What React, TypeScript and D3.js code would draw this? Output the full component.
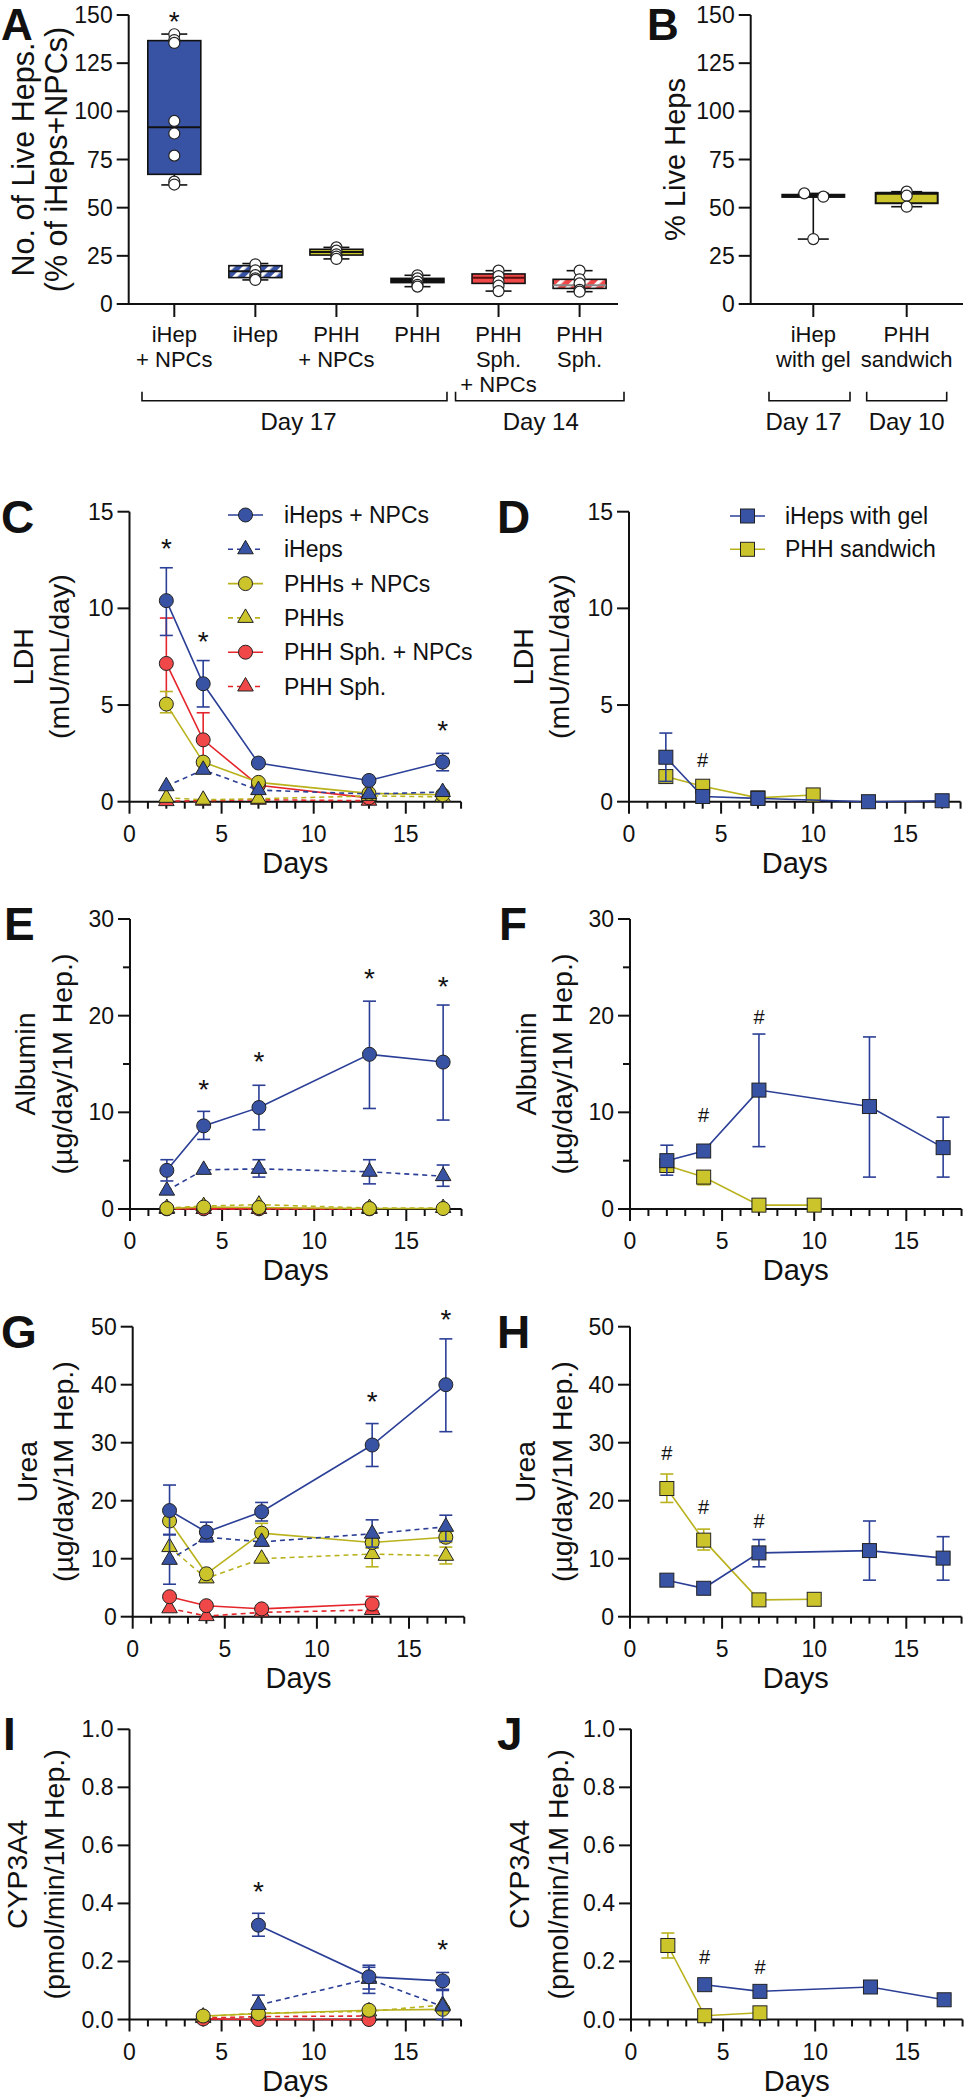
import React from 'react';
import * as d3 from 'd3';

const FONT = '"Liberation Sans", Arial, Helvetica, sans-serif';
const INK = '#111';
const BLUE = '#3953A4', BLUE_L = '#2B3F97';
const YEL = '#CBC42B', YEL_L = '#B9B21D';
const RED = '#F04848', RED_L = '#E4252B';

// ---------- Panel A (box plots) ----------
const catsA = [['iHep', '+ NPCs'], ['iHep'], ['PHH', '+ NPCs'], ['PHH'], ['PHH', 'Sph.', '+ NPCs'], ['PHH', 'Sph.']];
const a_min = [61.8, 12.5, 23.4, 9.0, 6.7, 6.4];
const a_q1 = [67.3, 13.7, 25.4, 11.1, 10.7, 8.1];
const a_med = [91.7, 17.0, 27.0, 12.2, 13.6, 9.7];
const a_q3 = [136.7, 19.9, 28.4, 13.3, 15.6, 12.8];
const a_max = [140.1, 21.0, 29.4, 14.9, 17.3, 17.3];
const a_pts = [
  [140, 137, 135.5, 95, 88.5, 77, 63.5, 62],
  [20.6, 17.5, 15.0, 13.3, 12.5],
  [29.4, 27.7, 25.8, 24.6, 23.4],
  [14.9, 13.3, 11.6, 9.9, 9.0],
  [17.3, 14.5, 11.6, 9.5, 6.7],
  [17.3, 12.8, 10.7, 7.3, 6.4],
];
const groupsA = [{ label: 'Day 17', from: 0, to: 3 }, { label: 'Day 14', from: 4, to: 5 }];
const yTicksBox = [0, 25, 50, 75, 100, 125, 150];

// ---------- Panel B ----------
const catsB = [['iHep', 'with gel'], ['PHH', 'sandwich']];
const b_min = [33.7, 50.5];
const b_q1 = [55.6, 52.3];
const b_med = [56.1, 57.5];
const b_q3 = [56.7, 57.6];
const b_max = [57.4, 58.3];
const b_pts = [[57.4, 55.7, 33.7], [58.3, 56.2, 50.5]];
const groupsB = [{ label: 'Day 17', from: 0, to: 0 }, { label: 'Day 10', from: 1, to: 1 }];

// ---------- Time-course days ----------
const days5 = [2, 4, 7, 13, 17];
const days4 = [2, 4, 7, 13];
const daysSand = [2, 4, 7, 10];
const daysI4 = [4, 7, 13, 17];
const daysI3 = [7, 13, 17];
const daysIS = [4, 7, 13];
const daysJg = [4, 7, 13, 17];
const daysJs = [2, 4, 7];

// LDH (C)
const ldh_iHN = [10.4, 6.1, 2.0, 1.1, 2.05];
const ldh_iHN_hi = [12.1, 7.3, null, null, 2.5];
const ldh_iHN_lo = [8.6, 4.9, null, null, 1.6];
const ldh_iH = [0.8, 1.65, 0.6, 0.4, 0.5];
const ldh_PN = [5.05, 2.05, 1.0, 0.43, 0.36];
const ldh_PN_hi = [5.7, null, null, null, null];
const ldh_PN_lo = [4.6, null, null, null, null];
const ldh_P = [0.2, 0.1, 0.15, 0.3, 0.25];
const ldh_SN = [7.15, 3.2, 0.85, 0.2];
const ldh_SN_hi = [9.5, 4.6, null, null];
const ldh_SN_lo = [4.9, 1.9, null, null];
const ldh_S = [0.03, 0.05, 0.1, 0.05];
// LDH (D)
const ldh_gel = [2.3, 0.27, 0.17, 0.0, 0.05];
const ldh_gel_hi = [3.55, null, null, null, null];
const ldh_gel_lo = [1.05, null, null, null, null];
const ldh_sand = [1.3, 0.8, 0.2, 0.35];

// Albumin (E)
const alb_iHN = [4.0, 8.6, 10.5, 16.0, 15.2];
const alb_iHN_hi = [5.1, 10.1, 12.8, 21.5, 21.1];
const alb_iHN_lo = [2.9, 7.2, 8.2, 10.4, 9.2];
const alb_iH = [1.9, 4.05, 4.15, 3.85, 3.4];
const alb_iH_hi = [null, null, 5.1, 5.1, 4.55];
const alb_iH_lo = [null, null, 3.3, 2.6, 2.35];
const alb_PN = [0.05, 0.2, 0.15, 0.05, 0.05];
const alb_P = [0.1, 0.3, 0.45, 0.1, 0.1];
const alb_SN = [0.02, 0.02, 0.02, 0.02];
const alb_S = [0.0, 0.0, 0.0, 0.0];
// Albumin (F)
const alb_gel = [5.0, 6.0, 12.3, 10.6, 6.35];
const alb_gel_hi = [6.6, null, 18.1, 17.8, 9.5];
const alb_gel_lo = [3.5, null, 6.45, 3.3, 3.3];
const alb_sand = [4.5, 3.3, 0.4, 0.4];
const alb_sand_hi = [null, 3.9, null, null];
const alb_sand_lo = [null, 2.5, null, null];

// Urea (G)
const urea_iHN = [18.3, 14.6, 18.1, 29.6, 40.0];
const urea_iHN_hi = [22.7, 16.3, 19.7, 33.3, 47.9];
const urea_iHN_lo = [14.2, 12.9, 16.5, 25.9, 31.9];
const urea_iH = [9.8, 13.7, 12.9, 14.3, 15.5];
const urea_iH_hi = [14.1, null, null, 16.7, 17.5];
const urea_iH_lo = [5.6, null, null, 12.0, 13.0];
const urea_PN = [16.5, 7.4, 14.4, 12.8, 13.7];
const urea_PN_hi = [null, null, 16.1, 13.8, 14.6];
const urea_PN_lo = [null, null, 12.7, 11.8, 12.8];
const urea_P = [12.0, 6.6, 10.0, 10.8, 10.5];
const urea_P_hi = [null, null, null, 11.9, 12.0];
const urea_P_lo = [null, null, null, 8.6, 9.1];
const urea_SN = [3.45, 1.9, 1.35, 2.2];
const urea_SN_hi = [null, null, null, 3.5];
const urea_SN_lo = [null, null, null, 1.0];
const urea_S = [1.45, 0.1, 0.75, 1.15];
// Urea (H)
const urea_gel = [6.3, 4.9, 11.0, 11.4, 10.1];
const urea_gel_hi = [null, null, 13.3, 16.5, 13.8];
const urea_gel_lo = [null, null, 8.6, 6.3, 6.3];
const urea_sand = [22.1, 13.2, 2.9, 3.0];
const urea_sand_hi = [24.6, 15.1, null, null];
const urea_sand_lo = [19.7, 11.5, null, null];

// CYP3A4 (I)
const cyp_iHN = [0.325, 0.147, 0.133];
const cyp_iHN_hi = [0.366, 0.187, 0.162];
const cyp_iHN_lo = [0.287, 0.105, 0.104];
const cyp_iH = [0.05, 0.14, 0.045];
const cyp_iH_hi = [0.084, 0.18, 0.1];
const cyp_iH_lo = [null, 0.09, 0.0];
const cyp_PN = [0.012, 0.02, 0.032, 0.035];
const cyp_P = [0.01, 0.022, 0.028, 0.05];
const cyp_SN = [0.002, 0.0, 0.0];
const cyp_S = [0.005, 0.01, 0.012];
// CYP3A4 (J)
const cyp_gel = [0.12, 0.097, 0.112, 0.068];
const cyp_sand = [0.255, 0.013, 0.023];
const cyp_sand_hi = [0.298, null, null];
const cyp_sand_lo = [0.212, null, null];

// significance marks
const sigC_days = [2, 4, 17], sigC_vals = [13.45, 8.6, 4.0];
const sigD_days = [4], sigD_vals = [2.16];
const sigE_days = [4, 7, 13, 17], sigE_vals = [13.0, 15.9, 24.55, 23.7];
const sigF_days = [4, 7], sigF_vals = [9.7, 19.9];
const sigG_days = [13, 17], sigG_vals = [38.2, 52.3];
const sigH_days = [2, 4, 7], sigH_vals = [28.2, 19.0, 16.5];
const sigI_days = [7, 17], sigI_vals = [0.463, 0.262];
const sigJ_days = [4, 7], sigJ_vals = [0.214, 0.182];

const legendLeft = [
  ['iHN', 'iHeps + NPCs'], ['iH', 'iHeps'], ['PN', 'PHHs + NPCs'],
  ['P', 'PHHs'], ['SN', 'PHH Sph. + NPCs'], ['S', 'PHH Sph.'],
];
const legendRight = [['gel', 'iHeps with gel'], ['sand', 'PHH sandwich']];

const STYLE: any = {
  iHN: { fill: BLUE, stroke: BLUE_L, shape: 'circle', dash: null },
  iH: { fill: BLUE, stroke: BLUE_L, shape: 'triangle', dash: '5,4' },
  PN: { fill: YEL, stroke: YEL_L, shape: 'circle', dash: null },
  P: { fill: YEL, stroke: YEL_L, shape: 'triangle', dash: '5,4' },
  SN: { fill: RED, stroke: RED_L, shape: 'circle', dash: null },
  S: { fill: RED, stroke: RED_L, shape: 'triangle', dash: '5,4' },
  gel: { fill: BLUE, stroke: BLUE_L, shape: 'square', dash: null },
  sand: { fill: YEL, stroke: YEL_L, shape: 'square', dash: null },
};

const ser = (key: string, days: number[], mean: number[], hi?: any[], lo?: any[]) => ({ key, days, mean, hi, lo });

const triPath = d3.symbol().type(d3.symbolTriangle).size(105)() as string;

function Marker({ shape, x, y, fill }: any) {
  if (shape === 'circle') return <circle cx={x} cy={y} r={7} fill={fill} stroke="#222" strokeWidth={1} />;
  if (shape === 'square') return <rect x={x - 7} y={y - 7} width={14} height={14} fill={fill} stroke="#222" strokeWidth={1} />;
  return <path d={triPath} transform={`translate(${x},${y})`} fill={fill} stroke="#222" strokeWidth={1} />;
}

function LinePanel(p: any) {
  const x = d3.scaleLinear().domain([0, 18]).range([p.left, p.left + 18 * 18.42]);
  const y = d3.scaleLinear().domain([0, p.ymax]).range([p.zero, p.top]);
  const cy = (p.top + p.zero) / 2;
  const fmt = p.fmt || ((v: number) => String(v));
  return (
    <g>
      <text x={p.letterX} y={p.top + 21} fontSize={46} fontWeight="bold" fill={INK}>{p.letter}</text>
      <text transform={`translate(${p.lx1},${cy}) rotate(-90)`} textAnchor="middle" dominantBaseline="central" fontSize={28.5} fill={INK}>{p.label1}</text>
      <text transform={`translate(${p.lx2},${cy}) rotate(-90)`} textAnchor="middle" dominantBaseline="central" fontSize={28.5} fill={INK}>{p.label2}</text>
      <line x1={p.left} x2={p.left} y1={p.top} y2={p.zero} stroke={INK} strokeWidth={2} />
      <line x1={p.left - 1} x2={x(18)} y1={p.zero} y2={p.zero} stroke={INK} strokeWidth={2} />
      {p.yticks.map((t: number) => (
        <g key={'yt' + t}>
          <line x1={p.left - 12} x2={p.left} y1={y(t)} y2={y(t)} stroke={INK} strokeWidth={2} />
          <text x={p.left - 16} y={y(t)} textAnchor="end" dominantBaseline="central" fontSize={23} fill={INK}>{fmt(t)}</text>
        </g>
      ))}
      {(p.minor || []).map((t: number) => (
        <line key={'ym' + t} x1={p.left - 7} x2={p.left} y1={y(t)} y2={y(t)} stroke={INK} strokeWidth={2} />
      ))}
      {d3.range(0, 19).map((d) => (
        <line key={'xt' + d} x1={x(d)} x2={x(d)} y1={p.zero} y2={p.zero + (d % 5 === 0 ? 12 : 7)} stroke={INK} strokeWidth={2} />
      ))}
      {[0, 5, 10, 15].map((d) => (
        <text key={'xl' + d} x={x(d)} y={p.zero + 40} textAnchor="middle" fontSize={23} fill={INK}>{d}</text>
      ))}
      <text x={(x(0) + x(18)) / 2} y={p.zero + 71} textAnchor="middle" fontSize={29} fill={INK}>Days</text>
      {p.series.map((s: any) => {
        const st = STYLE[s.key];
        const pts = s.days.map((d: number, i: number) => [x(d), y(s.mean[i])] as [number, number]);
        return (
          <g key={s.key}>
            <path d={d3.line()(pts) as string} fill="none" stroke={st.stroke} strokeWidth={1.6} strokeDasharray={st.dash || undefined} />
            {s.days.map((d: number, i: number) => {
              const hi = s.hi ? s.hi[i] : null;
              const lo = s.lo ? s.lo[i] : null;
              const out: any[] = [];
              if (hi != null) {
                out.push(<line key={'h' + i} x1={x(d)} x2={x(d)} y1={y(s.mean[i])} y2={y(hi)} stroke={st.stroke} strokeWidth={1.6} />);
                out.push(<line key={'hc' + i} x1={x(d) - 6.5} x2={x(d) + 6.5} y1={y(hi)} y2={y(hi)} stroke={st.stroke} strokeWidth={1.6} />);
              }
              if (lo != null) {
                out.push(<line key={'l' + i} x1={x(d)} x2={x(d)} y1={y(s.mean[i])} y2={y(lo)} stroke={st.stroke} strokeWidth={1.6} />);
                out.push(<line key={'lc' + i} x1={x(d) - 6.5} x2={x(d) + 6.5} y1={y(lo)} y2={y(lo)} stroke={st.stroke} strokeWidth={1.6} />);
              }
              return <g key={'e' + i}>{out}</g>;
            })}
            {pts.map((q: [number, number], i: number) => (
              <Marker key={'m' + i} shape={st.shape} x={q[0]} y={q[1]} fill={st.fill} />
            ))}
          </g>
        );
      })}
      {p.sigDays.map((d: number, i: number) => (
        <text key={'s' + i} x={x(d)} y={y(p.sigVals[i]) + (p.sym === '*' ? 16 : 7)} textAnchor="middle" fontSize={p.sym === '*' ? 28 : 20} fill={INK}>{p.sym}</text>
      ))}
      {p.legend && p.legend.entries.map((e: any, i: number) => {
        const st = STYLE[e[0]];
        const ly = p.legend.y0 + i * p.legend.step;
        const lx = p.legend.x;
        return (
          <g key={'lg' + i}>
            <line x1={lx - 17.5} x2={lx + 17.5} y1={ly} y2={ly} stroke={st.stroke} strokeWidth={1.6} strokeDasharray={st.dash || undefined} />
            <Marker shape={st.shape} x={lx} y={ly} fill={st.fill} />
            <text x={lx + p.legend.tx} y={ly} dominantBaseline="central" fontSize={23} fill={INK}>{e[1]}</text>
          </g>
        );
      })}
    </g>
  );
}

function BoxPanel(p: any) {
  const y = d3.scaleLinear().domain([0, 150]).range([304, 15]);
  const x = d3.scalePoint<number>().domain(d3.range(p.cats.length)).range(p.xr);
  const cy = (15 + 304) / 2;
  return (
    <g>
      <text x={p.letterX} y={40} fontSize={44} fontWeight="bold" fill={INK}>{p.letter}</text>
      {p.labels.map((l: string, i: number) => (
        <text key={'yl' + i} transform={`translate(${p.lx[i]},${cy}) rotate(-90)`} textAnchor="middle" dominantBaseline="central" fontSize={p.labelSize} fill={INK}>{l}</text>
      ))}
      <line x1={p.left} x2={p.left} y1={15} y2={304} stroke={INK} strokeWidth={2} />
      <line x1={p.left - 1} x2={p.xEnd} y1={304} y2={304} stroke={INK} strokeWidth={2} />
      {yTicksBox.map((t) => (
        <g key={'t' + t}>
          <line x1={p.left - 12} x2={p.left} y1={y(t)} y2={y(t)} stroke={INK} strokeWidth={2} />
          <text x={p.left - 16} y={y(t)} textAnchor="end" dominantBaseline="central" fontSize={23} fill={INK}>{t}</text>
        </g>
      ))}
      {p.cats.map((c: string[], i: number) => {
        const cx = x(i) as number;
        const hw = p.boxW / 2, cw = p.capW / 2;
        return (
          <g key={'c' + i}>
            <line x1={cx} x2={cx} y1={304} y2={317} stroke={INK} strokeWidth={2} />
            {c.map((t, k) => (
              <text key={k} x={cx} y={342 + k * 25} textAnchor="middle" fontSize={22} fill={INK}>{t}</text>
            ))}
            <line x1={cx} x2={cx} y1={y(p.max[i])} y2={y(p.q3[i])} stroke={INK} strokeWidth={1.6} />
            <line x1={cx} x2={cx} y1={y(p.q1[i])} y2={y(p.min[i])} stroke={INK} strokeWidth={1.6} />
            <line x1={cx - cw} x2={cx + cw} y1={y(p.max[i])} y2={y(p.max[i])} stroke={INK} strokeWidth={1.6} />
            <line x1={cx - cw} x2={cx + cw} y1={y(p.min[i])} y2={y(p.min[i])} stroke={INK} strokeWidth={1.6} />
            <rect x={cx - hw} width={p.boxW} y={y(p.q3[i])} height={y(p.q1[i]) - y(p.q3[i])} fill={p.fills[i]} stroke={INK} strokeWidth={p.boxStroke} />
            <line x1={cx - hw} x2={cx + hw} y1={y(p.med[i])} y2={y(p.med[i])} stroke={p.medColors[i]} strokeWidth={p.medW} />
            {p.pts[i].map((v: number, k: number) => (
              <circle key={k} cx={cx + (p.jit ? p.jit[i][k] : 0)} cy={y(v)} r={5.5} fill="#fff" stroke="#222" strokeWidth={1.2} />
            ))}
          </g>
        );
      })}
      {p.groups.map((g: any, i: number) => {
        const l = (x(g.from) as number) + p.gl[i];
        const r = (x(g.to) as number) + p.gr[i];
        return (
          <g key={'g' + i}>
            <path d={`M${l},391.7V400.7H${r}V391.7`} fill="none" stroke={INK} strokeWidth={1.6} />
            <text x={(l + r) / 2 + (p.gtx ? p.gtx[i] : 0)} y={430} textAnchor="middle" fontSize={24} fill={INK}>{g.label}</text>
          </g>
        );
      })}
      {p.stars.map((s: any, i: number) => (
        <text key={'st' + i} x={x(s[0]) as number} y={y(s[1]) + 16} textAnchor="middle" fontSize={28} fill={INK}>*</text>
      ))}
    </g>
  );
}

export default function App() {
  const sC = [
    ser('S', days4, ldh_S), ser('SN', days4, ldh_SN, ldh_SN_hi, ldh_SN_lo),
    ser('P', days5, ldh_P), ser('PN', days5, ldh_PN, ldh_PN_hi, ldh_PN_lo),
    ser('iH', days5, ldh_iH), ser('iHN', days5, ldh_iHN, ldh_iHN_hi, ldh_iHN_lo),
  ];
  const sD = [ser('sand', daysSand, ldh_sand), ser('gel', days5, ldh_gel, ldh_gel_hi, ldh_gel_lo)];
  const sE = [
    ser('S', days4, alb_S), ser('SN', days4, alb_SN),
    ser('P', days5, alb_P), ser('PN', days5, alb_PN),
    ser('iH', days5, alb_iH, alb_iH_hi, alb_iH_lo), ser('iHN', days5, alb_iHN, alb_iHN_hi, alb_iHN_lo),
  ];
  const sF = [ser('sand', daysSand, alb_sand, alb_sand_hi, alb_sand_lo), ser('gel', days5, alb_gel, alb_gel_hi, alb_gel_lo)];
  const sG = [
    ser('S', days4, urea_S), ser('SN', days4, urea_SN, urea_SN_hi, urea_SN_lo),
    ser('P', days5, urea_P, urea_P_hi, urea_P_lo), ser('PN', days5, urea_PN, urea_PN_hi, urea_PN_lo),
    ser('iH', days5, urea_iH, urea_iH_hi, urea_iH_lo), ser('iHN', days5, urea_iHN, urea_iHN_hi, urea_iHN_lo),
  ];
  const sH = [ser('sand', daysSand, urea_sand, urea_sand_hi, urea_sand_lo), ser('gel', days5, urea_gel, urea_gel_hi, urea_gel_lo)];
  const sI = [
    ser('S', daysIS, cyp_S), ser('SN', daysIS, cyp_SN),
    ser('P', daysI4, cyp_P), ser('PN', daysI4, cyp_PN),
    ser('iH', daysI3, cyp_iH, cyp_iH_hi, cyp_iH_lo), ser('iHN', daysI3, cyp_iHN, cyp_iHN_hi, cyp_iHN_lo),
  ];
  const sJ = [ser('sand', daysJs, cyp_sand, cyp_sand_hi, cyp_sand_lo), ser('gel', daysJg, cyp_gel)];

  const f1 = d3.format('.1f');
  const lab = '(µg/day/1M Hep.)';
  const legL = { entries: legendLeft, x: 245.5, y0: 515, step: 34.3, tx: 38.5 };
  const legR = { entries: legendRight, x: 747.5, y0: 516, step: 33.3, tx: 37.5 };

  return (
    <svg width={965} height={2100} style={{ position: 'absolute', left: 0, top: 0, background: '#fff' }} fontFamily={FONT}>
      <defs>
        <pattern id="hatchBlue" patternUnits="userSpaceOnUse" width={9} height={9} patternTransform="rotate(45)">
          <rect width={9} height={9} fill={BLUE} />
          <rect width={3.6} height={9} fill="#fff" />
        </pattern>
        <pattern id="hatchRed" patternUnits="userSpaceOnUse" width={9} height={9} patternTransform="rotate(45)">
          <rect width={9} height={9} fill={RED} />
          <rect width={3.6} height={9} fill="#fff" />
        </pattern>
      </defs>
      <rect width={965} height={2100} fill="#fff" />

      <BoxPanel
        letter="A" letterX={1} left={128.7} xEnd={618} xr={[174.3, 579.6]}
        labels={['No. of Live Heps.', '(% of iHeps+NPCs)']} lx={[23, 56]} labelSize={30.5}
        cats={catsA} min={a_min} q1={a_q1} med={a_med} q3={a_q3} max={a_max} pts={a_pts}
        fills={[BLUE, 'url(#hatchBlue)', YEL, '#111', RED, 'url(#hatchRed)']}
        medColors={[INK, INK, INK, INK, '#5a0d0d', '#888']} medW={2}
        boxW={53} capW={26} boxStroke={1.6}
        groups={groupsA} gl={[-32.3, -43]} gr={[29.5, 44.4]} gtx={[4, 1]}
        stars={[[0, 150]]}
      />
      <BoxPanel
        letter="B" letterX={647} left={750.7} xEnd={963} xr={[813.3, 906.7]}
        labels={['% Live Heps']} lx={[675]} labelSize={29}
        cats={catsB} min={b_min} q1={b_q1} med={b_med} q3={b_q3} max={b_max} pts={b_pts}
        jit={[[-9, 10, 0], [0, 0, 0]]}
        fills={['#fff', YEL]} medColors={[INK, INK]} medW={3}
        boxW={62} capW={31} boxStroke={2}
        groups={groupsB} gl={[-44.3, -40]} gr={[36.7, 40]} gtx={[-6, 0]}
        stars={[]}
      />

      <LinePanel letter="C" letterX={1} left={129.5} top={511.7} zero={801.7} ymax={15} yticks={[0, 5, 10, 15]}
        label1="LDH" label2="(mU/mL/day)" lx1={23} lx2={59.3}
        series={sC} sigDays={sigC_days} sigVals={sigC_vals} sym="*" legend={legL} />
      <LinePanel letter="D" letterX={497} left={629} top={511.7} zero={801.7} ymax={15} yticks={[0, 5, 10, 15]}
        label1="LDH" label2="(mU/mL/day)" lx1={523} lx2={559.3}
        series={sD} sigDays={sigD_days} sigVals={sigD_vals} sym="#" legend={legR} />

      <LinePanel letter="E" letterX={4} left={130} top={919} zero={1209} ymax={30} yticks={[0, 10, 20, 30]} minor={[5, 15, 25]}
        label1="Albumin" label2={lab} lx1={25} lx2={61.7}
        series={sE} sigDays={sigE_days} sigVals={sigE_vals} sym="*" />
      <LinePanel letter="F" letterX={499} left={630} top={919} zero={1209} ymax={30} yticks={[0, 10, 20, 30]} minor={[5, 15, 25]}
        label1="Albumin" label2={lab} lx1={526} lx2={562}
        series={sF} sigDays={sigF_days} sigVals={sigF_vals} sym="#" />

      <LinePanel letter="G" letterX={1} left={132.7} top={1326.7} zero={1616.7} ymax={50} yticks={[0, 10, 20, 30, 40, 50]}
        label1="Urea" label2={lab} lx1={26.7} lx2={63.3}
        series={sG} sigDays={sigG_days} sigVals={sigG_vals} sym="*" />
      <LinePanel letter="H" letterX={497} left={630} top={1326.7} zero={1616.7} ymax={50} yticks={[0, 10, 20, 30, 40, 50]}
        label1="Urea" label2={lab} lx1={525} lx2={562}
        series={sH} sigDays={sigH_days} sigVals={sigH_vals} sym="#" />

      <LinePanel letter="I" letterX={3} left={129.5} top={1729.3} zero={2019.5} ymax={1.0} yticks={[0, 0.2, 0.4, 0.6, 0.8, 1.0]} fmt={f1}
        label1="CYP3A4" label2="(pmol/min/1M Hep.)" lx1={17} lx2={54}
        series={sI} sigDays={sigI_days} sigVals={sigI_vals} sym="*" />
      <LinePanel letter="J" letterX={497} left={631} top={1729.3} zero={2019.5} ymax={1.0} yticks={[0, 0.2, 0.4, 0.6, 0.8, 1.0]} fmt={f1}
        label1="CYP3A4" label2="(pmol/min/1M Hep.)" lx1={519} lx2={558}
        series={sJ} sigDays={sigJ_days} sigVals={sigJ_vals} sym="#" />
    </svg>
  );
}
